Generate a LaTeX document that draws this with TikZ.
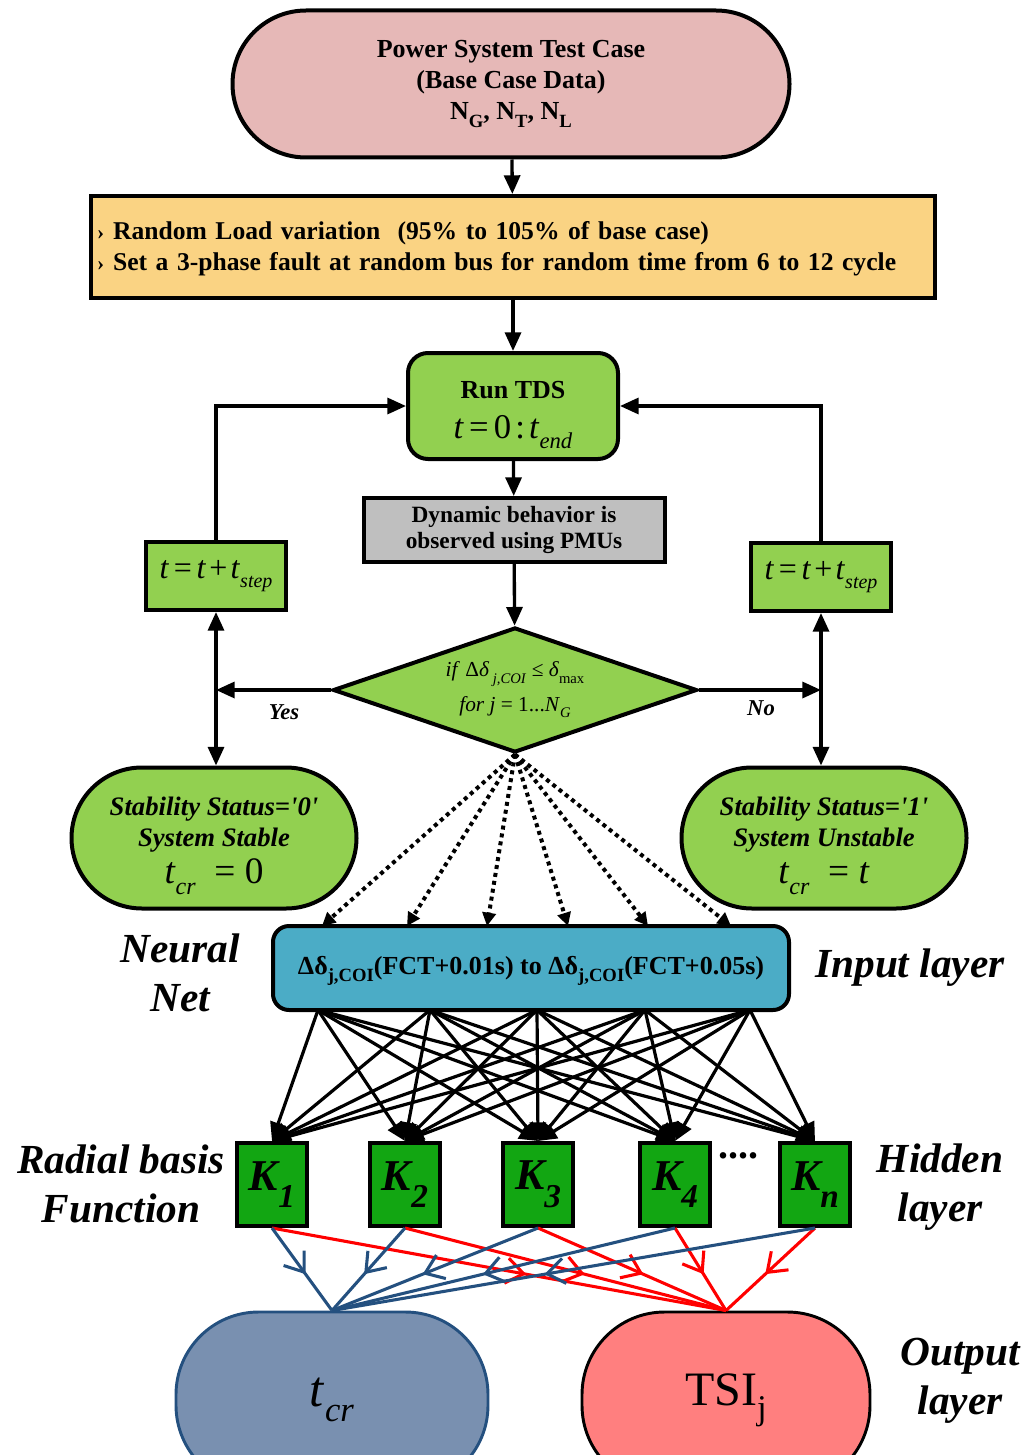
\documentclass[tikz,border=0pt]{standalone}
\usepackage{fontspec}
\setmainfont{Liberation Serif}
\usetikzlibrary{arrows.meta,shapes.geometric,shapes.misc,decorations.markings}

\definecolor{pinkfill}{HTML}{E6B8B7}
\definecolor{sandfill}{HTML}{FAD383}
\definecolor{leaf}{HTML}{92D050}
\definecolor{greybox}{HTML}{BFBFBF}
\definecolor{tealfill}{HTML}{4BACC6}
\definecolor{kgreen}{HTML}{12A612}
\definecolor{slatefill}{HTML}{7990B0}
\definecolor{navyline}{HTML}{24507F}
\definecolor{salmonfill}{HTML}{FF7F7F}
\definecolor{redline}{HTML}{FF0000}

\newcommand\fs[2]{\fontsize{#1}{#2}\selectfont}
\newcommand\lowsub[2][14]{\raisebox{-0.3em}{\fs{#1}{#1}#2}}
\newcommand\tstep{\textit{t}\hspace{0.15em}=\hspace{0.15em}\textit{t}\hspace{0.1em}+\hspace{0.1em}\textit{t}\lowsub[15]{\textit{step}}}
\newcommand\bul{{\fs{16}{16}›}\hspace{0.35em}}

\begin{document}
\begin{tikzpicture}[x=0.75pt,y=-0.75pt,
  box/.style={draw=black, line width=3pt, align=center, inner sep=0pt},
  stadium/.style={box, rounded rectangle},
  flow/.style={line width=2.5pt, -{Triangle[length=14pt,width=12pt]}},
  twoway/.style={line width=2.5pt, {Triangle[length=14pt,width=12pt]}-{Triangle[length=14pt,width=12pt]}},
  dotarrow/.style={line width=3pt, dash pattern=on 3pt off 3pt, -{Triangle[length=10pt,width=10pt]}},
  feed/.style={line width=2.4pt, -{Triangle[length=14pt,width=12pt]}},
  outlink/.style={line width=2.3pt, postaction={decorate},
    decoration={markings, mark=at position 0.56 with {\arrow{Straight Barb[length=13pt,width=19pt,line width=2.3pt]}}}},
  kbox/.style={box, fill=kgreen, minimum width=52.5pt, minimum height=62.25pt,
    font=\bfseries\itshape\fs{33}{33}},
  side/.style={font=\bfseries\itshape\fs{31}{37}, align=center},
  tag/.style={font=\bfseries\itshape\fs{17}{17}}]

\clip (0,0) rectangle (1029,1455);

% --- flowchart part ---
\node[stadium, fill=pinkfill, minimum width=417.75pt, minimum height=110.25pt,
  font=\bfseries\fs{19.5}{23.25}] (top) at (511,84)
  {Power System Test Case\\(Base Case Data)\\N\lowsub{G}, N\lowsub{T}, N\lowsub{L}};

\node[box, fill=sandfill, text width=624pt, inner xsep=4.5pt, minimum height=76.5pt,
  align=left, font=\bfseries\fs{19.2}{23.25}] (load) at (513,247)
  {\rule{0pt}{16pt}\bul Random Load variation\ \ (95\% to 105\% of base case)\\
   \bul Set a 3-phase fault at random bus for random time from 6 to 12 cycle};

\node[box, fill=leaf, rounded corners=15pt, minimum width=157.5pt, minimum height=79.5pt,
  font=\fs{19.5}{29}] (tds) at (513,406)
  {\rule{0pt}{26pt}\textbf{Run TDS}\\[1pt]{\fs{26}{26}\textit{t}\hspace{0.15em}=\hspace{0.15em}0\hspace{0.12em}:\hspace{0.12em}\textit{t}\lowsub[17]{\textit{end}}}};

\node[box, fill=greybox, minimum width=225.75pt, minimum height=48pt,
  font=\bfseries\fs{17.5}{19.5}] (pmu) at (514,530)
  {Dynamic behavior is\\observed using PMUs};

\node[box, diamond, aspect=2.9, fill=leaf, minimum width=273pt, minimum height=93.75pt,
  font=\fs{16}{26}] (dia) at (515,690)
  {\textit{if} Δ\textit{δ}\,\lowsub[11]{\textit{j,COI}} ≤ \textit{δ}\lowsub[11]{max}\\
   \textit{for j} = 1...\textit{N}\lowsub[11]{\textit{G}}};

\node[box, fill=leaf, minimum width=105pt, minimum height=51pt, font=\fs{24}{24}] (tl) at (216,576) {\tstep};
\node[box, fill=leaf, minimum width=105pt, minimum height=51pt, font=\fs{24}{24}] (tr) at (821,577) {\tstep};

\node[stadium, fill=leaf, minimum width=213.75pt, minimum height=105.75pt,
  font=\bfseries\itshape\fs{20}{23}] (sl) at (214,838)
  {\rule{0pt}{26pt}Stability Status=\textquotesingle0\textquotesingle\\System Stable\\[5pt]
   {\normalfont\fs{28}{28}\textit{t}\lowsub[18]{\textit{cr}}\ \ = 0}};
\node[stadium, fill=leaf, minimum width=213.75pt, minimum height=105.75pt,
  font=\bfseries\itshape\fs{20}{23}] (sr) at (824,838)
  {\rule{0pt}{26pt}Stability Status=\textquotesingle1\textquotesingle\\System Unstable\\[5pt]
   {\normalfont\fs{28}{28}\textit{t}\lowsub[18]{\textit{cr}}\ \ = \textit{t}}};

\draw[flow] (top) -- (load);
\draw[flow] (load) -- (tds);
\draw[flow] (tds) -- (pmu);
\draw[flow] (pmu) -- (dia);

% feedback loops into the simulation
\draw[flow] (tl.north) |- (tds.west);
\draw[flow] (tr.north) |- (tds.east);

% decision branches
\coordinate (jl) at (tl.south |- dia.west);
\coordinate (jr) at (tr.south |- dia.east);
\draw[twoway] (tl.south) -- (tl.south |- sl.north);
\draw[flow] (dia.west) -- (jl);
\draw[twoway] (tr.south) -- (tr.south |- sr.north);
\draw[flow] (dia.east) -- (jr);
\node[tag] (yes) at (284,712) {Yes};
\node[tag] (no) at (761,708) {No};

% --- neural network part ---
\node[box, fill=tealfill, rounded corners=12pt, minimum width=387pt, minimum height=63pt,
  font=\bfseries\fs{19.5}{19.5}] (inp) at (531,968)
  {\rule{0pt}{18pt}Δδ\lowsub{j,COI}(FCT+0.01s) to Δδ\lowsub{j,COI}(FCT+0.05s)};

\foreach \x [count=\i] in {322,407,487,568,648,731}
  \coordinate (d\i) at (\x,926);
\foreach \i in {1,...,6}
  \draw[dotarrow] (dia.south) -- (d\i);

\node[kbox] (k1) at (272,1184.5) {K\raisebox{-0.4em}{\fs{25}{25}1}};
\node[kbox] (k2) at (405,1184.5) {K\raisebox{-0.4em}{\fs{25}{25}2}};
\node[kbox] (k3) at (538,1184.5) {K\raisebox{-0.4em}{\fs{25}{25}3}};
\node[kbox] (k4) at (675,1184.5) {K\raisebox{-0.4em}{\fs{25}{25}4}};
\node[kbox] (k5) at (815,1184.5) {K\raisebox{-0.4em}{\fs{25}{25}n}};
\node[font=\bfseries\fs{30}{30}] (dots) at (738,1156) {....};

\foreach \x [count=\i] in {318,430,537,645,750}
  \coordinate (s\i) at (\x,1010);
\foreach \i in {1,...,5}
  \foreach \k in {1,...,5}
    \draw[feed] (s\i) -- (k\k.north);

\node[draw=navyline, line width=2.2pt, fill=slatefill, rounded corners=62pt,
  minimum width=234pt, minimum height=132pt, font=\fs{38}{38}] (tcr) at (332,1400)
  {\textit{t}\lowsub[26]{\textit{cr}}};
\node[draw=black, line width=2.2pt, fill=salmonfill, rounded corners=62pt,
  minimum width=216pt, minimum height=132pt, font=\fs{36}{36}] (tsi) at (726,1400)
  {TSI\lowsub[26]{j}};

\foreach \k in {1,...,5}
  \draw[outlink, redline] (k\k.south) -- (tsi.north);
\foreach \k in {1,...,5}
  \draw[outlink, navyline] (k\k.south) -- (tcr.north);

% layer captions
\node[side] (nn) at (180,973) {Neural\\Net};
\node[side] (il) at (910,968) {Input layer};
\node[side] (rb) at (121,1184) {Radial basis\\Function};
\node[side] (hl) at (940,1187) {Hidden\\layer};
\node[side] (ol) at (960,1381) {Output\\layer};
\end{tikzpicture}
\end{document}
